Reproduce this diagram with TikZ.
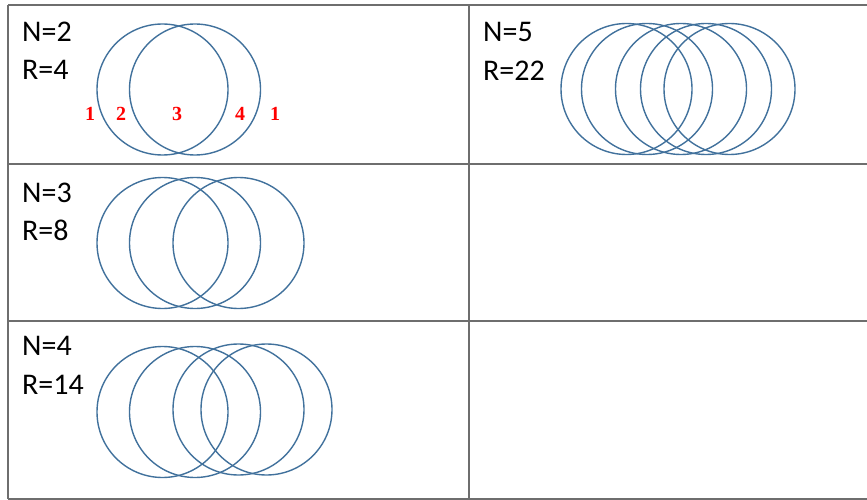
\documentclass[tikz,border=0pt]{standalone}
\usepackage{fontspec}
\setmainfont{Carlito}
\newfontfamily\digitfont{Liberation Serif}
\usetikzlibrary{positioning}
\definecolor{ringblue}{HTML}{41719C}
\definecolor{gridgray}{HTML}{6E6E6E}
\definecolor{markred}{HTML}{FF0000}
\newcommand{\ringrow}[2]{
  \foreach \cx in {#2} {\draw[ring] (\cx,#1) circle[radius=65.5];}
}

\begin{document}
\begin{tikzpicture}[x=1pt,y=-1pt,
    ring/.style={draw=ringblue,line width=1.4pt},
    gridline/.style={draw=gridgray,line width=2pt},
    tag/.style={anchor=base west,inner sep=0pt,font=\fontsize{30}{36}\selectfont},
    region/.style={anchor=base,inner sep=0pt,text=markred,font=\digitfont\bfseries\fontsize{20}{24}\selectfont}]
  \useasboundingbox (0,0) rectangle (867,500);
  % table
  \foreach \ry in {5,164,321,499} {\draw[gridline] (8,\ry) -- (867,\ry);}
  \foreach \cx in {8,469} {\draw[gridline] (\cx,5) -- (\cx,499);}
  % N=2
  \node[tag] (n2) at (22,42) {N=2};
  \node[tag] (r2) at (22,80) {R=4};
  \ringrow{89.5}{162.5,195}
  \node[region] (a1) at (90,121) {1};
  \node[region] (a2) at (121,121) {2};
  \node[region] (a3) at (177,121) {3};
  \node[region] (a4) at (240,121) {4};
  \node[region] (a5) at (275,121) {1};
  % N=3
  \node[tag] (n3) at (22,202) {N=3};
  \node[tag] (r3) at (22,240) {R=8};
  \ringrow{243}{162.5,195,238.5}
  % N=4
  \node[tag] (n4) at (22,355) {N=4};
  \node[tag] (r4) at (22,394) {R=14};
  \ringrow{412}{162.5,195}
  \ringrow{409.5}{238.5,266.5}
  % N=5
  \node[tag] (n5) at (483,42) {N=5};
  \node[tag] (r5) at (483,81) {R=22};
  \ringrow{89}{626.5,647,681,706,729.5}
\end{tikzpicture}
\end{document}
